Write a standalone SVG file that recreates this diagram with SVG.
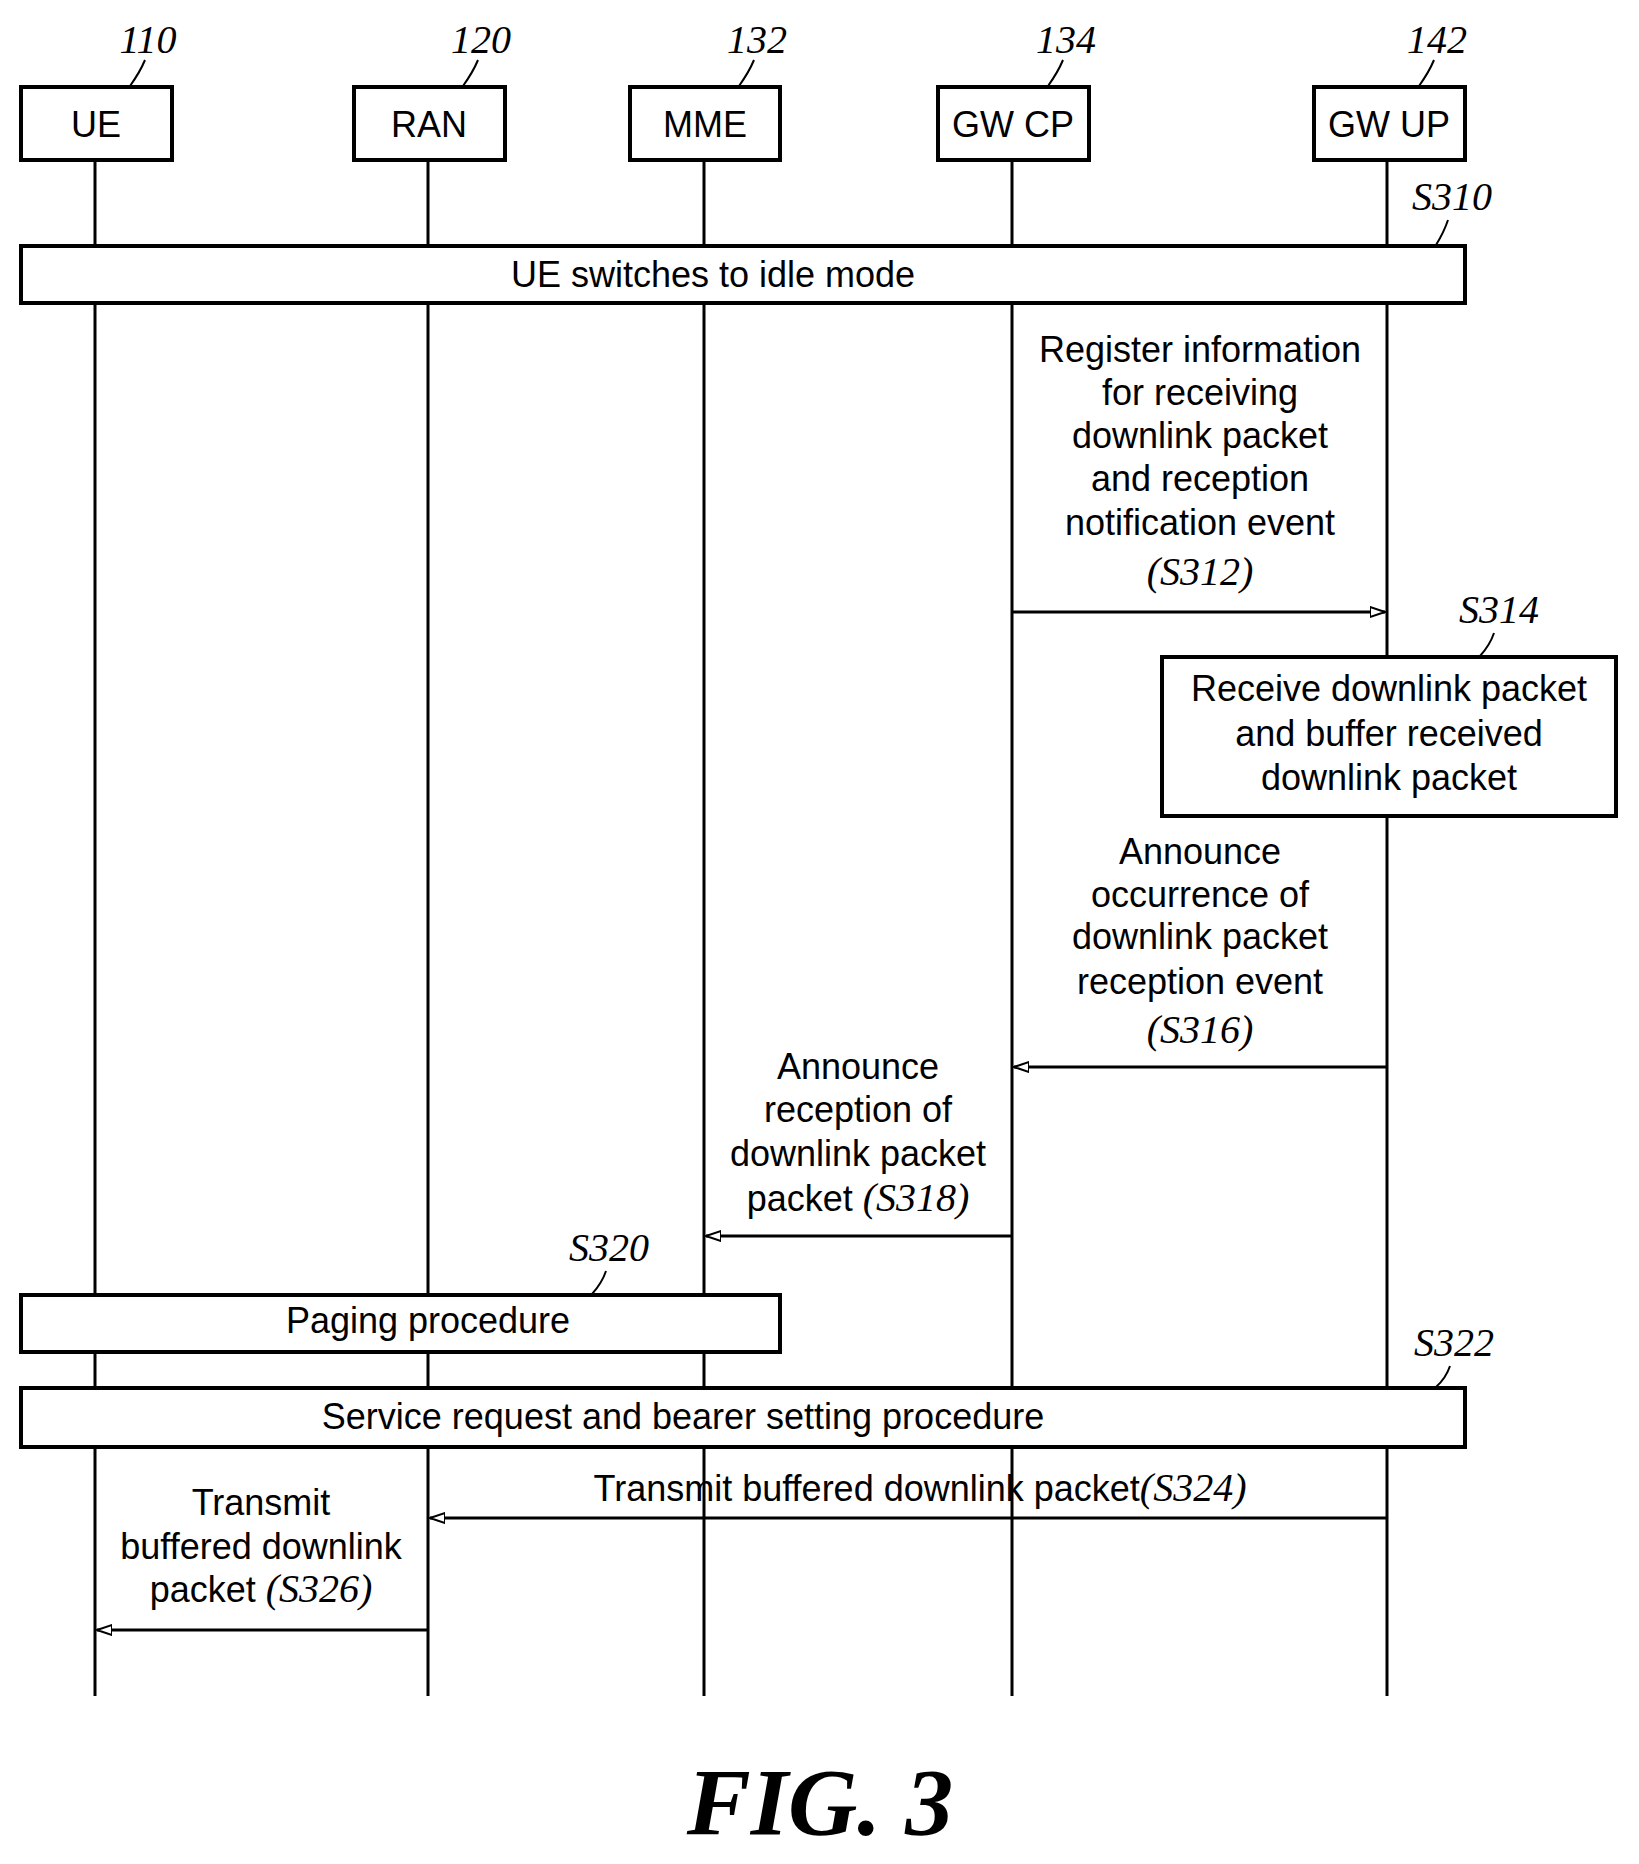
<svg xmlns="http://www.w3.org/2000/svg" width="1639" height="1864" viewBox="0 0 1639 1864">
<defs>
<style>
text{font-family:"Liberation Sans",Arial,sans-serif;font-size:36px;fill:#000;text-anchor:middle}
.ref{font-family:"Liberation Serif",serif;font-style:italic;font-size:40px}
.box{fill:#fff;stroke:#000;stroke-width:4}
.ll{stroke:#000;stroke-width:3;fill:none}
.msg{stroke:#000;stroke-width:3;fill:none;marker-end:url(#ah)}
.lead{stroke:#000;stroke-width:2;fill:none}
</style>
<marker id="ah" markerWidth="16" markerHeight="12" refX="15" refY="6" orient="auto" markerUnits="userSpaceOnUse">
<path d="M0,1 L15,6 L0,11 Z" fill="#fff" stroke="#000" stroke-width="2"/>
</marker>
</defs>
<g id="lifelines" class="ll">
<line x1="95" y1="160" x2="95" y2="1696"/>
<line x1="428" y1="160" x2="428" y2="1696"/>
<line x1="704" y1="160" x2="704" y2="1696"/>
<line x1="1012" y1="160" x2="1012" y2="1696"/>
<line x1="1387" y1="160" x2="1387" y2="1696"/>
</g>
<g id="n110"><rect class="box" x="21" y="87" width="151" height="73"/><text x="96" y="137">UE</text><text class="ref" x="148" y="53">110</text><path class="lead" d="M145,60 Q140,72 130,86"/></g>
<g id="n120"><rect class="box" x="354" y="87" width="151" height="73"/><text x="429" y="137">RAN</text><text class="ref" x="481" y="53">120</text><path class="lead" d="M478,60 Q473,72 463,86"/></g>
<g id="n132"><rect class="box" x="630" y="87" width="150" height="73"/><text x="705" y="137">MME</text><text class="ref" x="757" y="53">132</text><path class="lead" d="M754,60 Q749,72 739,86"/></g>
<g id="n134"><rect class="box" x="938" y="87" width="151" height="73"/><text x="1013" y="137">GW CP</text><text class="ref" x="1066" y="53">134</text><path class="lead" d="M1063,60 Q1058,72 1048,86"/></g>
<g id="n142"><rect class="box" x="1314" y="87" width="151" height="73"/><text x="1389" y="137">GW UP</text><text class="ref" x="1437" y="53">142</text><path class="lead" d="M1434,60 Q1429,72 1419,86"/></g>
<g id="s310"><rect class="box" x="21" y="246" width="1444" height="57"/><text x="713" y="287">UE switches to idle mode</text><text class="ref" x="1452" y="210">S310</text><path class="lead" d="M1448,220 Q1444,232 1436,245"/></g>
<g id="s314"><rect class="box" x="1162" y="657" width="454" height="159"/><text x="1389" y="701">Receive downlink packet</text><text x="1389" y="746">and buffer received</text><text x="1389" y="790">downlink packet</text><text class="ref" x="1499" y="623">S314</text><path class="lead" d="M1494,633 Q1490,645 1480,656"/></g>
<g id="s320"><rect class="box" x="21" y="1295" width="759" height="57"/><text x="428" y="1333">Paging procedure</text><text class="ref" x="609" y="1261">S320</text><path class="lead" d="M606,1271 Q602,1283 592,1294"/></g>
<g id="s322"><rect class="box" x="21" y="1388" width="1444" height="59"/><text x="683" y="1429">Service request and bearer setting procedure</text><text class="ref" x="1454" y="1356">S322</text><path class="lead" d="M1450,1366 Q1446,1378 1436,1387"/></g>
<g id="connectors">
<line class="msg" x1="1012" y1="612" x2="1385" y2="612"/>
<line class="msg" x1="1387" y1="1067" x2="1014" y2="1067"/>
<line class="msg" x1="1012" y1="1236" x2="706" y2="1236"/>
<line class="msg" x1="1387" y1="1518" x2="430" y2="1518"/>
<line class="msg" x1="428" y1="1630" x2="97" y2="1630"/>
</g>
<g id="labels">
<text x="1200" y="362">Register information</text>
<text x="1200" y="405">for receiving</text>
<text x="1200" y="448">downlink packet</text>
<text x="1200" y="491">and reception</text>
<text x="1200" y="535">notification event</text>
<text class="ref" x="1200" y="585">(S312)</text>
<text x="1200" y="864">Announce</text>
<text x="1200" y="907">occurrence of</text>
<text x="1200" y="949">downlink packet</text>
<text x="1200" y="994">reception event</text>
<text class="ref" x="1200" y="1043">(S316)</text>
<text x="858" y="1079">Announce</text>
<text x="858" y="1122">reception of</text>
<text x="858" y="1166">downlink packet</text>
<text x="858" y="1211">packet <tspan class="ref">(S318)</tspan></text>
<text x="920" y="1501">Transmit buffered downlink packet<tspan class="ref">(S324)</tspan></text>
<text x="261" y="1515">Transmit</text>
<text x="261" y="1559">buffered downlink</text>
<text x="261" y="1602">packet <tspan class="ref">(S326)</tspan></text>
</g>
<text x="820" y="1835" style="font-family:'Liberation Serif',serif;font-style:italic;font-weight:bold;font-size:96px">FIG. 3</text>
</svg>
